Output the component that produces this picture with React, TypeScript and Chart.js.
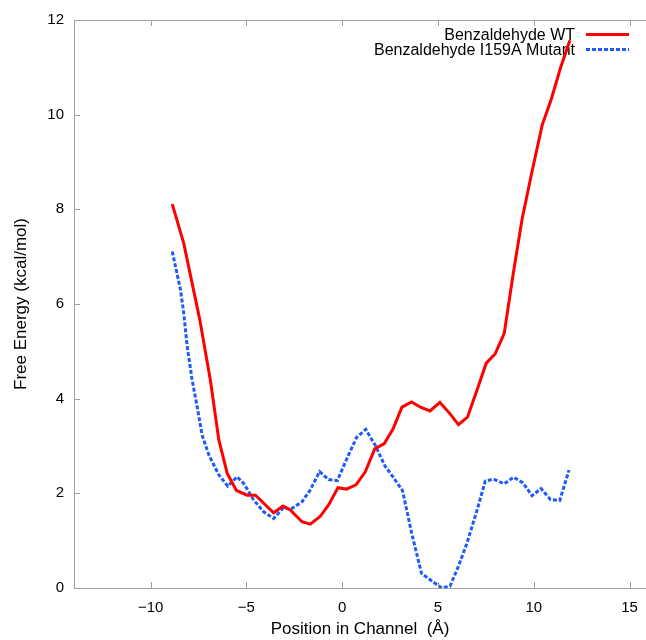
import React, { useEffect, useRef } from 'react';
import { Chart, registerables } from 'chart.js';

Chart.register(...registerables);

const xTicks = [-10, -5, 0, 5, 10, 15];
const yTicks = [0, 2, 4, 6, 8, 10, 12];

const seriesLabels = ['Benzaldehyde WT', 'Benzaldehyde I159A Mutant'];

const wtX = [-8.87, -8.27, -7.43, -6.88, -6.44, -6.0, -5.52, -4.96, -4.53, -3.58, -3.09, -2.71, -2.1, -1.67, -1.15, -0.7, -0.22, 0.22, 0.72, 1.2, 1.7, 2.2, 2.65, 3.12, 3.62, 4.09, 4.58, 5.1, 5.59, 6.07, 6.54, 7.03, 7.52, 7.99, 8.46, 8.92, 9.39, 9.91, 10.44, 10.91, 11.4, 11.89];
const wtY = [8.11, 7.28, 5.66, 4.39, 3.13, 2.42, 2.06, 1.96, 1.96, 1.59, 1.73, 1.65, 1.4, 1.35, 1.51, 1.76, 2.12, 2.09, 2.18, 2.45, 2.94, 3.05, 3.36, 3.82, 3.93, 3.82, 3.74, 3.92, 3.7, 3.45, 3.61, 4.17, 4.75, 4.95, 5.38, 6.62, 7.79, 8.8, 9.78, 10.32, 10.99, 11.57];

const mutX = [-8.87, -8.44, -8.27, -8.09, -7.83, -7.57, -7.31, -6.96, -6.44, -5.97, -5.49, -5.14, -4.62, -4.1, -3.58, -3.06, -2.71, -2.1, -1.67, -1.18, -0.71, -0.25, 0.22, 0.75, 1.23, 1.72, 2.23, 2.66, 3.15, 3.62, 4.14, 4.67, 5.19, 5.63, 6.07, 6.5, 7.03, 7.47, 7.9, 8.46, 8.95, 9.44, 9.91, 10.38, 10.87, 11.36, 11.84];
const mutY = [7.11, 6.3, 5.8, 5.1, 4.39, 3.83, 3.23, 2.81, 2.39, 2.15, 2.35, 2.21, 1.86, 1.61, 1.47, 1.7, 1.66, 1.82, 2.07, 2.46, 2.29, 2.27, 2.71, 3.18, 3.35, 3.02, 2.58, 2.34, 2.06, 1.17, 0.31, 0.15, 0.0, 0.04, 0.46, 0.93, 1.63, 2.26, 2.3, 2.2, 2.34, 2.22, 1.95, 2.1, 1.87, 1.85, 2.49];

const FONT = '"Liberation Sans", Arial, Helvetica, sans-serif';
const AXIS_GRAY = '#a0a0a0';

const innerTicks = {
  id: 'innerTicks',
  afterDraw(chart: any) {
    const { ctx, chartArea, scales } = chart;
    const { left, right, top, bottom } = chartArea;
    const x = scales.x;
    const y = scales.y;
    ctx.save();
    ctx.strokeStyle = AXIS_GRAY;
    ctx.lineWidth = 1;
    ctx.beginPath();
    ctx.moveTo(left, Math.round(top) + 0.5);
    ctx.lineTo(right, Math.round(top) + 0.5);
    x.ticks.forEach((t: any) => {
      const px = Math.round(x.getPixelForValue(t.value)) + 0.5;
      ctx.moveTo(px, bottom);
      ctx.lineTo(px, bottom - 6);
      ctx.moveTo(px, top);
      ctx.lineTo(px, top + 6);
    });
    y.ticks.forEach((t: any) => {
      const py = Math.round(y.getPixelForValue(t.value)) + 0.5;
      ctx.moveTo(left, py);
      ctx.lineTo(left + 6, py);
    });
    ctx.stroke();
    ctx.restore();
  },
};

const gnuLegend = {
  id: 'gnuLegend',
  beforeDatasetsDraw(chart: any) {
    const { ctx } = chart;
    ctx.save();
    ctx.font = '16px ' + FONT;
    ctx.textAlign = 'right';
    ctx.textBaseline = 'middle';
    chart.data.datasets.forEach((ds: any, i: number) => {
      const yy = 34.5 + i * 15;
      ctx.fillStyle = '#000';
      ctx.fillText(ds.label, 575, yy + 1);
      ctx.strokeStyle = ds.borderColor;
      ctx.lineWidth = ds.borderWidth;
      ctx.setLineDash(ds.borderDash || []);
      ctx.beginPath();
      ctx.moveTo(586, yy);
      ctx.lineTo(629, yy);
      ctx.stroke();
      ctx.setLineDash([]);
    });
    ctx.restore();
  },
};

export default function App() {
  const ref = useRef<HTMLCanvasElement | null>(null);
  useEffect(() => {
    document.body.style.margin = '0';
    const canvas = ref.current;
    if (!canvas) return;
    const chart = new Chart(canvas, {
      type: 'scatter',
      data: {
        datasets: [
          {
            label: seriesLabels[0],
            data: wtX.map((x, i) => ({ x, y: wtY[i] })),
            showLine: true,
            borderColor: '#ff0000',
            backgroundColor: '#ff0000',
            borderWidth: 3,
            pointRadius: 0,
            tension: 0,
          },
          {
            label: seriesLabels[1],
            data: mutX.map((x, i) => ({ x, y: mutY[i] })),
            showLine: true,
            borderColor: '#1f5cf5',
            backgroundColor: '#1f5cf5',
            borderWidth: 3,
            borderDash: [4, 2],
            pointRadius: 0,
            tension: 0,
          },
        ],
      },
      options: {
        responsive: false,
        animation: false,
        devicePixelRatio: 1,
        layout: { padding: { top: 20, right: 0, bottom: 0, left: 0 } },
        plugins: {
          legend: { display: false },
          tooltip: { enabled: false },
        },
        scales: {
          x: {
            type: 'linear',
            min: -14,
            max: 15.86,
            afterBuildTicks: (s: any) => {
              s.ticks = xTicks.map((v) => ({ value: v }));
            },
            afterFit: (s: any) => {
              s.height = 52;
            },
            grid: {
              display: true,
              drawOnChartArea: false,
              drawTicks: true,
              tickLength: 8,
              tickColor: 'rgba(0,0,0,0)',
            },
            border: { display: true, color: AXIS_GRAY, width: 1 },
            ticks: {
              autoSkip: false,
              maxRotation: 0,
              padding: 3,
              color: '#000',
              font: { family: FONT, size: 15 },
              callback: (v: any) => String(v).replace('-', '\u2212'),
            },
            title: {
              display: true,
              text: 'Position in Channel  (\u00c5)',
              color: '#000',
              font: { family: FONT, size: 17 },
              padding: { top: 0, bottom: 0 },
            },
          },
          y: {
            type: 'linear',
            min: 0,
            max: 12,
            afterBuildTicks: (s: any) => {
              s.ticks = yTicks.map((v) => ({ value: v }));
            },
            afterFit: (s: any) => {
              s.width = 74;
            },
            grid: { display: true, drawOnChartArea: false, drawTicks: false },
            border: { display: true, color: AXIS_GRAY, width: 1 },
            ticks: {
              padding: 10,
              color: '#000',
              font: { family: FONT, size: 15 },
            },
            title: {
              display: true,
              text: 'Free Energy (kcal/mol)',
              color: '#000',
              font: { family: FONT, size: 17 },
              padding: { top: 11, bottom: 0 },
            },
          },
        },
      },
      plugins: [innerTicks, gnuLegend],
    });
    return () => chart.destroy();
  }, []);
  return (
    <div style={{ width: 646, height: 640 }}>
      <canvas ref={ref} width={646} height={640} style={{ display: 'block' }} />
    </div>
  );
}
